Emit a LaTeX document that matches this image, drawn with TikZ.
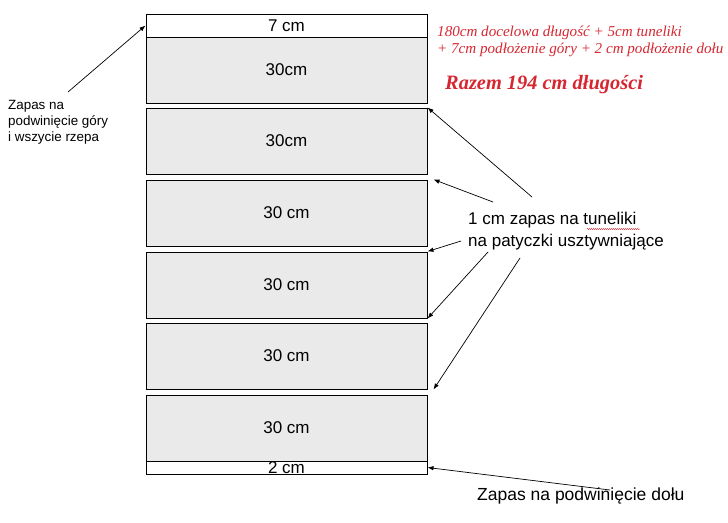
\documentclass[tikz,border=0pt]{standalone}
\usepackage{fontspec}
\setmainfont{Liberation Sans}
\newfontfamily\redserif{Liberation Serif}
\usetikzlibrary{arrows.meta,decorations.pathmorphing}
\definecolor{pasgray}{RGB}{234,234,234}
\definecolor{notered}{RGB}{214,38,48}
\tikzset{
  pas/.style={draw,fill=pasgray,line width=1pt,minimum width=281pt,minimum height=66pt,inner sep=0pt,font=\fontsize{17}{20}\selectfont},
  zapas/.style={pas,fill=white,minimum height=23pt},
  opis/.style={align=left,inner sep=0pt},
  strz/.style={-{Latex[length=6pt,width=4.5pt]},line width=0.7pt},
}
\begin{document}
\begin{tikzpicture}[x=1pt,y=-1pt]
\useasboundingbox (0,0) rectangle (728,522);

\node[zapas] (gora) at (286.5,25.5) {7 cm};
\node[pas] (p1) at (286.5,70) {30cm};
\node[pas] (p2) at (286.5,141) {30cm};
\node[pas] (p3) at (286.5,213) {30 cm};
\node[pas] (p4) at (286.5,285) {30 cm};
\node[pas] (p5) at (286.5,356) {30 cm};
\node[pas] (p6) at (286.5,428) {30 cm};
\node[zapas,minimum height=13pt] (dol) at (286.5,467.5) {2 cm};

\node[opis,anchor=north west,font=\fontsize{13.4}{16}\selectfont] (lewy) at (8,100) {Zapas na\\podwinięcie góry\\i wszycie rzepa};
\node[opis,anchor=north west,font=\fontsize{17}{21.5}\selectfont] (tunele) at (468,212) {1 cm zapas na tuneliki\\na patyczki usztywniające};
\node[anchor=base west,inner sep=0pt,font=\fontsize{17.5}{21}\selectfont] (dolopis) at (477,500) {Zapas na podwinięcie dołu};

\node[opis,anchor=north west,text=notered,font=\redserif\itshape\fontsize{15.1}{17.5}\selectfont] (suma) at (437,25.5) {180cm docelowa długość + 5cm tuneliki\\+ 7cm podłożenie góry + 2 cm podłożenie dołu};
\node[anchor=base west,inner sep=0pt,text=notered,font=\redserif\bfseries\itshape\fontsize{20.4}{24}\selectfont] (razem) at (445,89) {Razem 194 cm długości};

\draw[notered,line width=0.4pt,decorate,decoration={snake,amplitude=0.6pt,segment length=2pt}] (587,229) -- (640,229);

\coordinate (lewyS) at (68,92);
\coordinate (t1) at (532,197);
\coordinate (t2) at (493,202);
\coordinate (t3) at (461,241);
\coordinate (t4) at (488,252);
\coordinate (t5) at (520,258);
\coordinate (dolS) at (610,490);

\draw[strz] (lewyS) -- (gora.west);
\draw[strz] (t1) -- (p2.north east);
\draw[strz] (t2) -- ([xshift=6pt]p3.north east);
\draw[strz] (t3) -- (p4.north east);
\draw[strz] (t4) -- (p4.south east);
\draw[strz] (t5) -- ([xshift=6pt]p5.south east);
\draw[strz] (dolS) -- (dol.east);
\end{tikzpicture}
\end{document}
